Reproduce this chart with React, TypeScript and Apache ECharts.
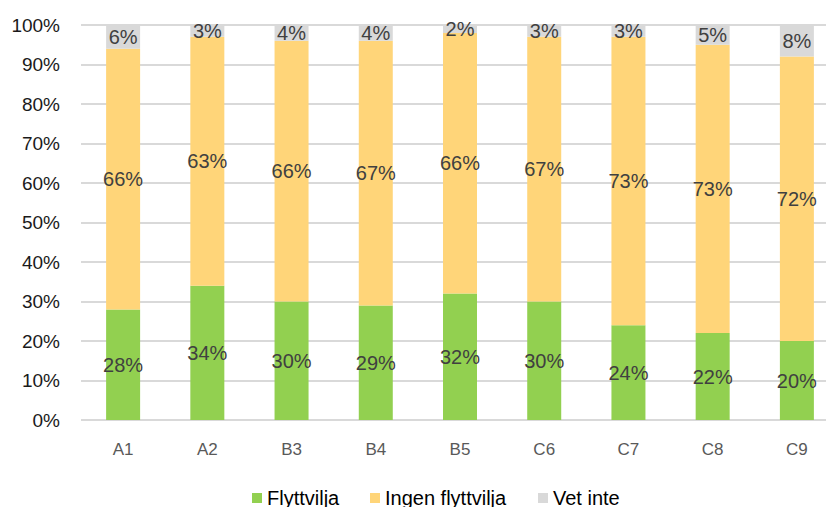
import React, { useEffect, useRef } from "react";
import * as echarts from "echarts";

const categories = ["A1", "A2", "B3", "B4", "B5", "C6", "C7", "C8", "C9"];
const flyttvilja = [28, 34, 30, 29, 32, 30, 24, 22, 20];
const ingenFlyttvilja = [66, 63, 66, 67, 66, 67, 73, 73, 72];
const vetInte = [6, 3, 4, 4, 2, 3, 3, 5, 8];
const seriesNames = ["Flyttvilja", "Ingen flyttvilja", "Vet inte"];
const colors = ["#92D050", "#FFD579", "#D9D9D9"];

const FONT = "Liberation Sans, Arial, sans-serif";

// horizontal start of each legend entry
const legendLefts = [247, 365, 533];

export default function App() {
  const ref = useRef<HTMLDivElement>(null);

  useEffect(() => {
    if (!ref.current) return;
    const chart = echarts.init(ref.current, null, { renderer: "svg" });
    const values = [flyttvilja, ingenFlyttvilja, vetInte];
    chart.setOption({
      animation: false,
      textStyle: { fontFamily: FONT },
      grid: {
        left: 81,
        width: 758,
        top: 25,
        bottom: 87,
        outerBoundsMode: "none",
        containLabel: false,
      },
      legend: seriesNames.map((name, i) => ({
        top: 483,
        left: legendLefts[i],
        itemWidth: 10,
        itemHeight: 10,
        icon: "rect",
        textStyle: { fontFamily: FONT, fontSize: 20, color: "#000000" },
        data: [name],
      })),
      xAxis: {
        type: "category",
        data: categories,
        axisLine: { show: false },
        axisTick: { show: false },
        axisLabel: { fontFamily: FONT, fontSize: 17, color: "#595959", margin: 21 },
      },
      yAxis: {
        type: "value",
        min: 0,
        max: 100,
        interval: 10,
        axisLine: { show: false },
        axisTick: { show: false },
        splitLine: { lineStyle: { color: "#D9D9D9", width: 2 } },
        axisLabel: {
          formatter: "{value}%",
          fontFamily: FONT,
          fontSize: 19,
          color: "#1A1A1A",
          margin: 21,
        },
      },
      series: seriesNames.map((name, i) => ({
        name,
        type: "bar",
        stack: "total",
        barWidth: 34,
        data: values[i],
        itemStyle: { color: colors[i] },
        label: {
          show: true,
          position: "inside",
          formatter: "{c}%",
          fontFamily: FONT,
          fontSize: 20,
          color: "#404040",
        },
      })),
    });
    return () => chart.dispose();
  }, []);

  return (
    <div
      ref={ref}
      style={{ position: "absolute", left: 0, top: 0, width: 826, height: 507 }}
    />
  );
}
